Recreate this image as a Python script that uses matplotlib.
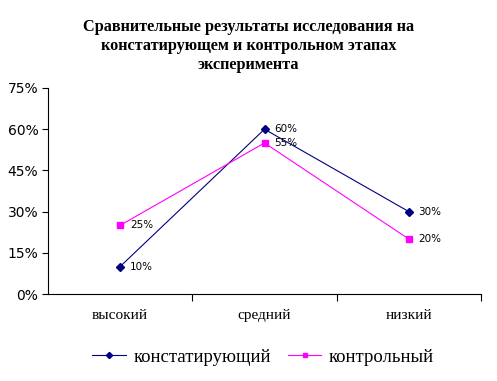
import matplotlib.pyplot as plt
from matplotlib.ticker import PercentFormatter

# data
categories = ['высокий', 'средний', 'низкий']
konst = [10, 60, 30]
kontr = [25, 55, 20]
yticks = [0, 15, 30, 45, 60, 75]

fig = plt.figure(figsize=(4.97, 3.81), dpi=100)
ax = fig.add_axes([48 / 497, 1 - 294 / 381, 433 / 497, 206 / 381])

x = range(len(categories))
ax.plot(x, konst, color='#000080', lw=0.8, marker='D', ms=4.5,
        label='констатирующий')
ax.plot(x, kontr, color='#FF00FF', lw=0.8, marker='s', ms=5,
        label='контрольный')

for xi, v in zip(x, konst):
    ax.annotate(f'{v}%', (xi, v), xytext=(7, 0), textcoords='offset points',
                va='center', fontsize=7.5, family='DejaVu Sans')
for xi, v in zip(x, kontr):
    ax.annotate(f'{v}%', (xi, v), xytext=(7, 0), textcoords='offset points',
                va='center', fontsize=7.5, family='DejaVu Sans')

ax.set_xlim(-0.5, 2.5)
ax.set_ylim(0, 75)
ax.set_yticks(yticks)
ax.yaxis.set_major_formatter(PercentFormatter(decimals=0))
ax.set_xticks([0.5, 1.5, 2.5])
ax.set_xticklabels([])
ax.set_xticks(list(x), minor=True)
ax.set_xticklabels(categories, minor=True, family='Liberation Serif', fontsize=11)
ax.tick_params(axis='x', which='major', length=5, direction='out', width=0.8)
ax.tick_params(axis='x', which='minor', length=0, pad=11)
ax.tick_params(axis='y', length=4, width=0.8, labelsize=10, pad=3)
for lbl in ax.get_yticklabels():
    lbl.set_family('DejaVu Sans')

for s in ['top', 'right']:
    ax.spines[s].set_visible(False)
ax.spines['left'].set_linewidth(0.8)
ax.spines['bottom'].set_linewidth(0.8)

fig.text(0.5, 1 - 46 / 381, 'Сравнительные результаты исследования на\n'
         'констатирующем и контрольном этапах\nэксперимента',
         ha='center', va='center', family='Liberation Serif', weight='bold',
         fontsize=11.7, linespacing=1.28)

fig.legend(loc='center', bbox_to_anchor=(263 / 497, 1 - 357 / 381), ncol=2,
           frameon=False, prop={'family': 'Liberation Serif', 'size': 13.5},
           handlelength=1.8, handletextpad=0.4, columnspacing=0.9,
           markerscale=0.7)

fig.savefig('out.png', dpi=100)
